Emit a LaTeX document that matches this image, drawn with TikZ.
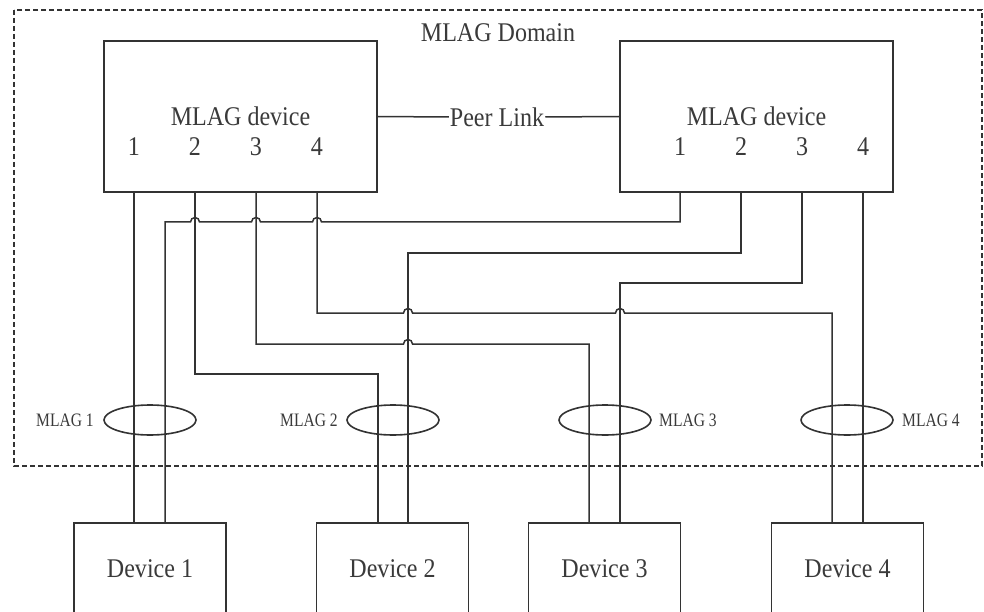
\documentclass[tikz,border=0pt]{standalone}
\usepackage{fontspec}
\setmainfont{Liberation Serif}[FakeStretch=0.89]
\newfontfamily\smallfont{Liberation Serif}[FakeStretch=0.82]
\usetikzlibrary{shapes.geometric}
\definecolor{ink}{HTML}{333333}
\definecolor{txt}{HTML}{3A3A3A}
\begin{document}
\begin{tikzpicture}[x=1pt,y=-1pt,
  bigbox/.style={draw=ink,line width=1.8pt,rectangle,minimum width=273pt,minimum height=151pt,inner sep=0pt,
    font=\fontsize{27}{32}\selectfont,text=txt},
  devbox/.style={draw=ink,line width=1.6pt,rectangle,minimum width=152pt,minimum height=160pt,inner sep=0pt},
  bigtxt/.style={font=\fontsize{27}{32}\selectfont,text=txt,inner sep=1pt},
  smalltxt/.style={font=\smallfont\fontsize{19}{22}\selectfont,text=txt,inner sep=0pt},
  wire/.style={draw=ink,line width=1.5pt},
  lag/.style={draw=ink,line width=1.6pt,ellipse,minimum width=92pt,minimum height=30pt,inner sep=0pt},
  domframe/.style={draw=ink,line width=1.8pt,dash pattern=on 5pt off 3pt}]
\useasboundingbox (0,0) rectangle (984,612);
\clip (0,0) rectangle (984,612);
\fill[white] (0,0) rectangle (984,612);

% domain frame
\draw[domframe] (14,10) rectangle (982,466);
\node[bigtxt] (dom) at (498,33) {MLAG Domain};

% MLAG devices
\node[bigbox] (mL) at (240.5,116.5) {MLAG device};
\node[bigbox] (mR) at (756.5,116.5) {MLAG device};
\foreach \x/\n in {134/1,195/2,256/3,317/4}{
  \node[bigtxt] (nL\n) at (\x,147) {\n};
  \coordinate (L\n) at (\x,192);}
\foreach \x/\n in {680/1,741/2,802/3,863/4}{
  \node[bigtxt] (nR\n) at (\x,147) {\n};
  \coordinate (R\n) at (\x,192);}

% peer link
\node[bigtxt] (peer) at (497,117) {Peer Link};
\draw[wire] (mL.east) -- (peer.west);
\draw[wire] (peer.east) -- (mR.west);

% devices
\foreach \c/\n in {150/1,392.5/2,604.5/3,847.5/4}{
  \node[devbox,label={[bigtxt,yshift=34pt]center:Device \n}] (dev\n) at (\c,603) {};}
\coordinate (D1a) at (134,523); \coordinate (D1b) at (165,523);
\coordinate (D2a) at (378,523); \coordinate (D2b) at (408,523);
\coordinate (D3a) at (589,523); \coordinate (D3b) at (620,523);
\coordinate (D4a) at (832,523); \coordinate (D4b) at (863,523);

% wires
\draw[wire] (L1) -- (D1a);
\draw[wire] (R1) -- (680,222) -- (321.5,222) arc[start angle=0,end angle=180,radius=4.5pt]
  -- (260.5,222) arc[start angle=0,end angle=180,radius=4.5pt]
  -- (199.5,222) arc[start angle=0,end angle=180,radius=4.5pt]
  -- (165,222) -- (D1b);
\draw[wire] (L2) -- (195,374) -- (378,374) -- (D2a);
\draw[wire] (R2) -- (741,253) -- (408,253) -- (D2b);
\draw[wire] (L3) -- (256,344) -- (403.5,344) arc[start angle=180,end angle=0,radius=4.5pt]
  -- (589,344) -- (D3a);
\draw[wire] (R3) -- (802,283) -- (620,283) -- (D3b);
\draw[wire] (L4) -- (317,313) -- (403.5,313) arc[start angle=180,end angle=0,radius=4.5pt]
  -- (615.5,313) arc[start angle=180,end angle=0,radius=4.5pt]
  -- (832,313) -- (D4a);
\draw[wire] (R4) -- (D4b);

% MLAG groups
\node[lag] (g1) at (150,420) {};
\node[lag] (g2) at (393,420) {};
\node[lag] (g3) at (605,420) {};
\node[lag] (g4) at (847,420) {};
\node[smalltxt,anchor=east] (t1) at (94,420) {MLAG 1};
\node[smalltxt,anchor=east] (t2) at (338,420) {MLAG 2};
\node[smalltxt,anchor=west] (t3) at (659,420) {MLAG 3};
\node[smalltxt,anchor=west] (t4) at (902,420) {MLAG 4};
\end{tikzpicture}
\end{document}
